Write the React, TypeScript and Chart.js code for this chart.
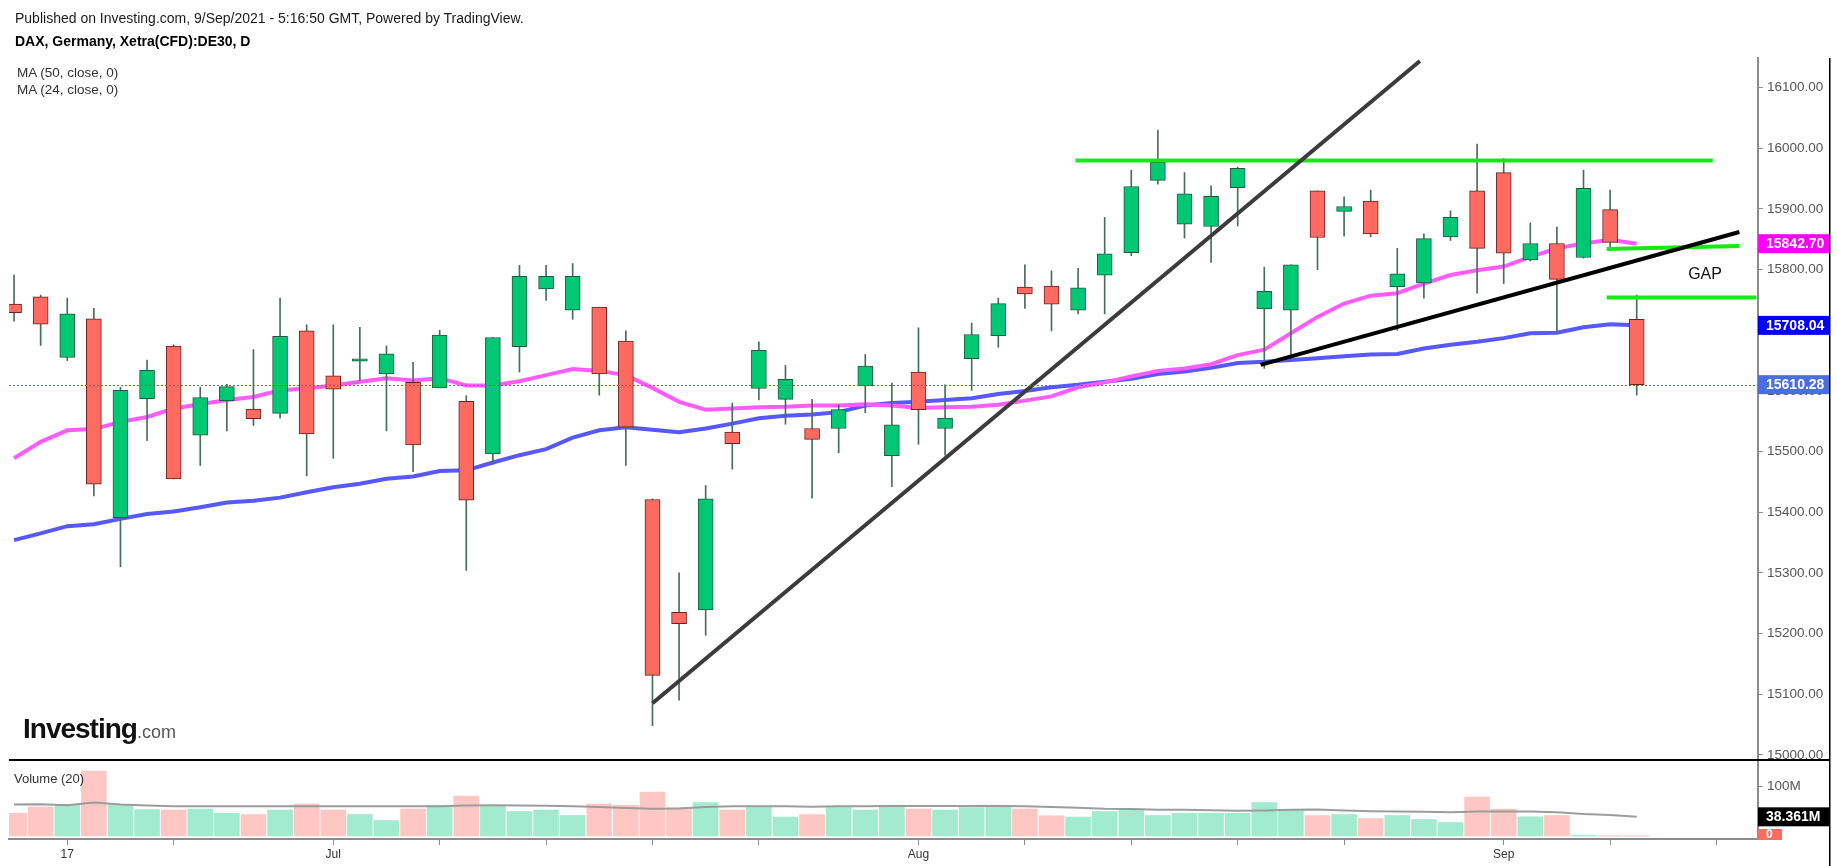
import React, { useEffect, useRef } from "react";
import { Chart, registerables } from "chart.js";

Chart.register(...registerables);

// ---- DATA ----
// Daily candles, 15 Jun 2021 .. 8 Sep 2021 (index 0..61)
const opens = [15743,15755,15655,15719,15391,15587,15674,15527,15584,15570,15563,15699,15625,15649,15628,15614,15605,15583,15496,15673,15768,15733,15738,15682,15421,15235,15239,15532,15604,15586,15538,15538,15608,15493,15631,15538,15653,15691,15771,15773,15733,15791,15828,15947,15875,15871,15935,15735,15733,15930,15896,15913,15772,15778,15854,15930,15960,15816,15843,15820,15899,15718];
const highs = [15791,15758,15753,15736,15606,15651,15676,15606,15611,15668,15753,15709,15709,15705,15674,15647,15700,15592,15688,15807,15807,15810,15738,15699,15422,15300,15444,15580,15681,15642,15586,15577,15660,15613,15704,15610,15712,15753,15808,15798,15802,15886,15964,16030,15960,15938,15969,15804,15808,15930,15920,15931,15835,15859,15897,16007,15983,15877,15870,15964,15931,15758];
const lows = [15715,15675,15650,15427,15310,15518,15455,15477,15534,15543,15555,15460,15489,15617,15534,15467,15605,15304,15479,15631,15749,15718,15593,15477,15048,15090,15197,15471,15585,15545,15423,15498,15564,15442,15512,15494,15601,15672,15736,15699,15727,15727,15823,15941,15852,15812,15872,15637,15656,15800,15855,15854,15700,15753,15848,15761,15777,15814,15695,15819,15831,15593];
const closes = [15729,15710,15727,15446,15601,15634,15455,15589,15607,15554,15690,15529,15603,15653,15661,15511,15692,15420,15688,15789,15789,15789,15628,15540,15131,15216,15422,15513,15667,15619,15520,15569,15641,15544,15569,15555,15693,15744,15760,15743,15770,15826,15937,15977,15925,15921,15967,15764,15808,15853,15904,15859,15793,15851,15886,15835,15827,15843,15784,15934,15845,15610.28];
// volume in millions
const volumes = [45.5,58,63,130,63,53,52,54,45.5,43,52,64,52,43,31,54,61.5,80,61.5,49,52,41,64,61.5,88,57,67,52,57,38,43,57,52,61.5,54,52,57,61.5,54,40.5,38,49,54,41,45.5,45.5,45.5,67,52,41,43,35,41,33,27,78,54,38.5,41,1.5,1,0.8];
const volMa = [63,63.6,61.5,67,63,61,59.4,59.4,59.4,59.4,59.4,59.4,59.4,59.4,59.4,59.4,59.4,61,61.5,61,60.5,59.4,58,56,54.5,55,58,59.4,59.4,59.4,58.7,59.4,59.4,60,60,60,60,60,59.4,58,56.6,54.5,53.8,52.4,52.4,51.7,50.3,51,52.4,53,51,49.6,49,48.3,47.6,49,49,49,47.6,44,42,38.361];
const ma24 = [15489,15516,15535,15537,15549,15557,15571,15578,15585,15590,15601,15604,15609,15615,15621,15617,15621,15609,15609,15616,15626,15636,15633,15626,15605,15582,15569,15571,15573,15574,15576,15576,15578,15576,15572,15573,15574,15577,15584,15591,15606,15614,15624,15633,15637,15644,15659,15668,15695,15722,15744,15757,15761,15777,15791,15799,15805,15821,15835,15843,15849,15842.7];
const ma50 = [15354,15365,15377,15380,15389,15397,15401,15408,15416,15419,15424,15433,15441,15447,15455,15459,15468,15469,15482,15494,15504,15523,15535,15540,15536,15532,15538,15546,15555,15559,15561,15565,15576,15580,15582,15585,15588,15595,15600,15606,15610,15615,15620,15628,15632,15638,15646,15648,15651,15654,15657,15660,15661,15670,15676,15681,15687,15695,15696,15705,15710,15708.04];

const priceTicks = [15000,15100,15200,15300,15400,15500,15600,15700,15800,15900,16000,16100];
const volTicks = [100];
const xTickIdx = [2,6,12,16,20,24,28,34,38,42,46,50,56,60,64];
const xTickNames = ["17","","Jul","","","","","Aug","","","","","Sep","",""];

// drawn annotations (index, price)
const trendUpX = [24, 52.85];
const trendUpY = [15085, 16144];
const trendLowX = [46.86, 64.86];
const trendLowY = [15643, 15862];
const resistX = [39.9, 63.86];
const resistY = [15980, 15980];
const gapTopX = [59.87, 64.86];
const gapTopY = [15834, 15839];
const gapBotX = [59.87, 65.5];
const gapBotY = [15754, 15754];
const gapLabel = { x: 63.57, y: 15791, text: "GAP" };

const FONT = "'Liberation Sans', Arial, sans-serif";
const UP = "#00c774";
const DOWN = "#ff6b61";

const pts = (xs: number[], ys: number[]) => xs.map((x, i) => ({ x, y: ys[i] }));

const overlay = {
  id: "overlay",
  afterDatasetsDraw(chart: any) {
    const { ctx, chartArea: a, scales } = chart;
    const py = Math.round(scales.y.getPixelForValue(closes[closes.length - 1])) + 0.5;
    ctx.save();
    ctx.strokeStyle = "#4a6ee0";
    ctx.lineWidth = 1;
    ctx.setLineDash([2, 2]);
    ctx.beginPath();
    ctx.moveTo(a.left, py);
    ctx.lineTo(a.right, py);
    ctx.stroke();
    ctx.restore();
  },
  afterDraw(chart: any) {
    const { ctx, chartArea: a, scales } = chart;
    const y = scales.y;
    const yv = scales.yVol;
    const x = scales.x;
    const rightEdge = a.right + 71;
    ctx.save();
    // separator between panes
    ctx.fillStyle = "#000";
    ctx.fillRect(a.left, y.bottom - 1, rightEdge - a.left, 2);
    // right border
    ctx.fillRect(rightEdge, a.top, 1.5, chart.height - a.top);

    const box = (py: number, bg: string, text: string, w = 71, h = 19) => {
      ctx.fillStyle = bg;
      ctx.fillRect(a.right, py - h / 2, w, h);
      ctx.fillStyle = "#fff";
      ctx.font = `bold 14px ${FONT}`;
      ctx.textAlign = "left";
      ctx.textBaseline = "middle";
      ctx.fillText(text, a.right + 8, py + 0.5);
    };
    box(y.getPixelForValue(ma24[ma24.length - 1]), "#ff00ff", ma24[ma24.length - 1].toFixed(2));
    box(y.getPixelForValue(ma50[ma50.length - 1]), "#0000ff", ma50[ma50.length - 1].toFixed(2));
    box(y.getPixelForValue(closes[closes.length - 1]), "#4a6ee0", closes[closes.length - 1].toFixed(2));
    box(yv.getPixelForValue(volMa[volMa.length - 1]), "#000000", volMa[volMa.length - 1].toFixed(3) + "M");
    // last volume box (clipped at bottom)
    const p0 = yv.getPixelForValue(0);
    ctx.fillStyle = "#ff6b61";
    ctx.fillRect(a.right, p0 - 7, 24, 11);
    ctx.fillStyle = "#fff";
    ctx.font = `bold 12px ${FONT}`;
    ctx.textBaseline = "middle";
    ctx.fillText("0", a.right + 8, p0 - 1);

    // GAP label
    ctx.fillStyle = "#111";
    ctx.font = `16px ${FONT}`;
    ctx.textAlign = "center";
    ctx.textBaseline = "middle";
    ctx.fillText(gapLabel.text, x.getPixelForValue(gapLabel.x), y.getPixelForValue(gapLabel.y));
    ctx.restore();
  },
};

export default function App() {
  const ref = useRef<HTMLCanvasElement | null>(null);

  useEffect(() => {
    if (!ref.current) return;
    Chart.defaults.font.family = FONT;
    const idx = closes.map((_, i) => i);
    const isUp = idx.map((i) => closes[i] >= opens[i]);

    const lineDs = (label: string, data: any[], color: string, width: number, order: number, yAxisID = "y") => ({
      type: "line",
      label,
      data,
      borderColor: color,
      borderWidth: width,
      pointRadius: 0,
      tension: 0,
      fill: false,
      order,
      yAxisID,
      xAxisID: "x",
    });

    const chart = new Chart(ref.current, {
      type: "bar",
      data: {
        datasets: [
          lineDs("trendUp", pts(trendUpX, trendUpY), "#3c3c3c", 4, 0),
          lineDs("trendLow", pts(trendLowX, trendLowY), "#000000", 4, 0),
          lineDs("resistance", pts(resistX, resistY), "#14ea14", 4, 0),
          lineDs("gapTop", pts(gapTopX, gapTopY), "#14ea14", 4, 0),
          lineDs("gapBottom", pts(gapBotX, gapBotY), "#14ea14", 4, 0),
          {
            type: "bar",
            label: "bodies",
            data: idx.map((i) => ({ x: i, y: [opens[i], closes[i]] })),
            backgroundColor: isUp.map((u) => (u ? UP : DOWN)),
            borderColor: isUp.map((u) => (u ? "#1f5b40" : "#6e1f1f")),
            borderWidth: 1,
            borderSkipped: false,
            barThickness: 15,
            grouped: false,
            order: 1,
            yAxisID: "y",
            xAxisID: "x",
          },
          {
            type: "bar",
            label: "wicks",
            data: idx.map((i) => ({ x: i, y: [lows[i], highs[i]] })),
            backgroundColor: "#44705b",
            borderWidth: 0,
            barThickness: 1,
            grouped: false,
            order: 2,
            yAxisID: "y",
            xAxisID: "x",
          },
          lineDs("MA (24, close, 0)", pts(idx, ma24), "#ff5cff", 4, 3),
          lineDs("MA (50, close, 0)", pts(idx, ma50), "#5858ff", 4, 3),
          {
            type: "bar",
            label: "Volume",
            data: idx.map((i) => ({ x: i, y: volumes[i] })),
            backgroundColor: isUp.map((u) => (u ? "rgba(0,200,120,0.36)" : "rgba(255,107,97,0.38)")),
            borderWidth: 0,
            barThickness: 25,
            grouped: false,
            order: 5,
            yAxisID: "yVol",
            xAxisID: "x",
          },
          lineDs("Volume MA", pts(idx, volMa), "#9c9c9c", 2, 4, "yVol"),
        ] as any,
      },
      options: {
        animation: false,
        responsive: false,
        devicePixelRatio: 1,
        events: [],
        layout: { padding: { left: 9, top: 58, right: 0, bottom: 0 } },
        plugins: { legend: { display: false }, tooltip: { enabled: false } },
        scales: {
          x: {
            type: "linear",
            position: "bottom",
            min: -0.19,
            max: 65.56,
            offset: false,
            grid: { drawOnChartArea: false, drawTicks: true, tickLength: 6, color: "#8c8c8c", offset: false },
            border: { display: true, color: "#8c8c8c", width: 2 },
            afterBuildTicks: (s: any) => {
              s.ticks = xTickIdx.map((v) => ({ value: v }));
            },
            afterFit: (s: any) => {
              s.height = 27;
            },
            ticks: {
              autoSkip: false,
              maxRotation: 0,
              color: "#333",
              font: { size: 12 },
              padding: 2,
              callback: (v: any) => {
                const k = xTickIdx.indexOf(Number(v));
                return k >= 0 ? xTickNames[k] : "";
              },
            },
          },
          y: {
            type: "linear",
            position: "right",
            stack: "panes",
            stackWeight: 702,
            min: 14991.4,
            max: 16148.9,
            offset: false,
            grid: { drawOnChartArea: false, drawTicks: true, tickLength: 5, color: "#8c8c8c" },
            border: { display: true, color: "#8c8c8c", width: 2 },
            afterBuildTicks: (s: any) => {
              s.ticks = priceTicks.map((v) => ({ value: v }));
            },
            afterFit: (s: any) => {
              s.width = 79;
            },
            ticks: {
              color: "#555",
              font: { size: 13.5 },
              padding: 4,
              callback: (v: any) => Number(v).toFixed(2),
            },
          },
          yVol: {
            type: "linear",
            position: "right",
            stack: "panes",
            stackWeight: 79,
            min: -6,
            max: 152,
            offset: false,
            grid: { drawOnChartArea: false, drawTicks: true, tickLength: 5, color: "#8c8c8c" },
            border: { display: true, color: "#8c8c8c", width: 2 },
            afterBuildTicks: (s: any) => {
              s.ticks = volTicks.map((v) => ({ value: v }));
            },
            afterFit: (s: any) => {
              s.width = 79;
            },
            ticks: {
              color: "#555",
              font: { size: 13.5 },
              padding: 4,
              callback: (v: any) => `${v}M`,
            },
          },
        },
      } as any,
      plugins: [overlay],
    });
    return () => chart.destroy();
  }, []);

  const txt: React.CSSProperties = {
    position: "fixed",
    fontFamily: FONT,
    color: "#1a1a1a",
    whiteSpace: "nowrap",
    lineHeight: "16px",
    zIndex: 2,
  };

  return (
    <div style={{ position: "fixed", left: 0, top: 0, width: 1837, height: 866, background: "#fff" }}>
      <canvas ref={ref} width={1837} height={866} style={{ position: "absolute", left: 0, top: 0, width: 1837, height: 866 }} />
      <div style={{ ...txt, left: 15, top: 10, fontSize: 14 }}>
        Published on Investing.com, 9/Sep/2021 - 5:16:50 GMT, Powered by TradingView.
      </div>
      <div style={{ ...txt, left: 15, top: 33, fontSize: 14, fontWeight: "bold", color: "#000" }}>
        DAX, Germany, Xetra(CFD):DE30, D
      </div>
      <div style={{ ...txt, left: 17, top: 65, fontSize: 13.5, color: "#333" }}>MA (50, close, 0)</div>
      <div style={{ ...txt, left: 17, top: 82, fontSize: 13.5, color: "#333" }}>MA (24, close, 0)</div>
      <div style={{ ...txt, left: 14, top: 771, fontSize: 13, color: "#333" }}>Volume (20)</div>
      <div style={{ ...txt, left: 23, top: 715, lineHeight: "28px", display: "flex", alignItems: "baseline" }}>
        <span style={{ fontSize: 28, fontWeight: "bold", letterSpacing: -1, color: "#111" }}>Investing</span>
        <span style={{ fontSize: 18, color: "#555" }}>.com</span>
      </div>
    </div>
  );
}
